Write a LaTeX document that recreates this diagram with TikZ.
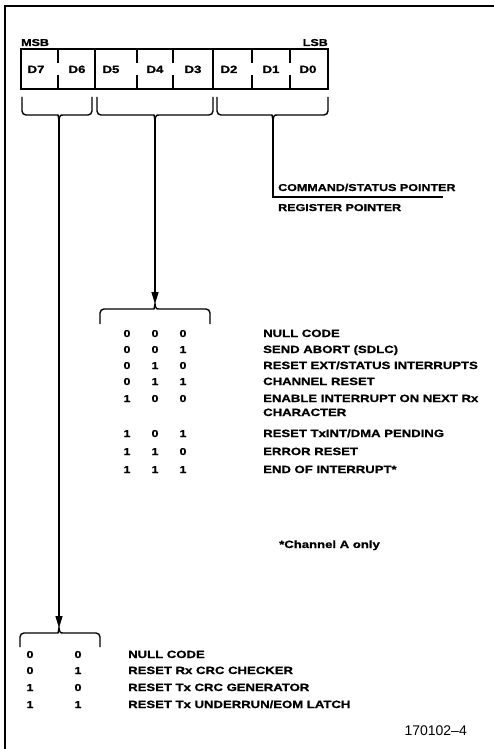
\documentclass[tikz,border=0pt]{standalone}
\usepackage{fontspec}
\setmainfont{Liberation Sans}[FakeStretch=1.25, FakeBold=1.0]
\newfontfamily\plainfont{Liberation Sans}
\usetikzlibrary{arrows.meta}
\tikzset{
  lbl/.style={font=\fontsize{10.5}{11}\selectfont\bfseries, inner sep=0pt, anchor=base west},
  ptr/.style={font=\fontsize{10}{11}\selectfont\bfseries, inner sep=0pt, anchor=base west},
  dig/.style={font=\fontsize{10}{11}\selectfont\bfseries, inner sep=0pt, anchor=base},
  cell/.style={font=\fontsize{10.5}{11}\selectfont\bfseries, inner sep=0pt, anchor=base},
  ln/.style={line width=1.4pt},
  boxln/.style={line width=1.9pt},
  br/.style={line width=1.4pt},
  arr/.style={line width=1.4pt, -{Triangle[length=12pt,width=7pt]}},
}
\newcommand\mydownbrace[3]{% a c b : ends at top (97), cusp pointing down
  \draw[br] (#1,97) [rounded corners=4pt] -- (#1,115) -- (#2-5,115) [sharp corners]
    .. controls (#2-1,115) .. (#2,120) .. controls (#2+1,115) .. (#2+5,115)
    [rounded corners=4pt] -- (#3,115) -- (#3,97);}
\newcommand\myupbrace[5]{% a c b cusp-y end-y
  \draw[br] (#1,#5) [rounded corners=4pt] -- (#1,#4+5) -- (#2-5,#4+5) [sharp corners]
    .. controls (#2-1,#4+5) .. (#2,#4) .. controls (#2+1,#4+5) .. (#2+5,#4+5)
    [rounded corners=4pt] -- (#3,#4+5) -- (#3,#5);}
\begin{document}
\begin{tikzpicture}[x=1pt,y=-1pt]
\useasboundingbox (0,0) rectangle (494,749);
% frame
\draw[line width=1.5pt] (4,6) -- (494,6);
\draw[line width=1.2pt] (5,6) -- (5,749);
% register
\node[ptr] (msb) at (21,46) {MSB};
\node[ptr, anchor=base east] (lsb) at (328,46) {LSB};
\draw[boxln] (21,49) rectangle (328,89);
\foreach \x in {95,213} \draw[boxln] (\x,49) -- (\x,89);
\foreach \x in {58,137,173,252,290} {
  \draw[boxln] (\x,49) -- (\x,63);
  \draw[boxln] (\x,75) -- (\x,89);
}
\foreach \t/\x in {D7/36,D6/77,D5/111,D4/155,D3/193,D2/229,D1/271,D0/308}
  \node[cell] (c\t) at (\x,73) {\t};
% braces under register
\mydownbrace{22}{59}{92}
\mydownbrace{97}{155}{213}
\mydownbrace{217}{273}{328}
\coordinate (lcusp) at (59,120);
\coordinate (mcusp) at (155,120);
\coordinate (rcusp) at (273,120);
% pointer
\coordinate (rend) at (443,197);
\draw[ln] (rcusp) |- (rend);
\node[ptr] (cmd) at (278,191) {COMMAND/STATUS POINTER};
\node[ptr] (reg) at (278,211) {REGISTER POINTER};
% middle table
\coordinate (mtop) at (155,304);
\draw[arr] (mcusp) -- (mtop);
\myupbrace{100}{155}{210}{304}{324}
\foreach \a/\b/\c/\y/\t in {
  0/0/0/337/{NULL CODE},
  0/0/1/353/{SEND ABORT (SDLC)},
  0/1/0/369/{RESET EXT/STATUS INTERRUPTS},
  0/1/1/385/{CHANNEL RESET},
  1/0/0/402/{ENABLE INTERRUPT ON NEXT Rx},
  1/0/1/437/{RESET TxINT/DMA PENDING},
  1/1/0/455/{ERROR RESET},
  1/1/1/473/{END OF INTERRUPT*}}{
  \node[dig] at (127,\y) {\a};
  \node[dig] at (155,\y) {\b};
  \node[dig] at (183,\y) {\c};
  \node[lbl] at (263,\y) {\t};
}
\node[lbl] (chr) at (263,416) {CHARACTER};
\node[lbl] (note) at (279,548) {*Channel A only};
% bottom table
\coordinate (btop) at (59,628);
\draw[arr] (lcusp) -- (btop);
\myupbrace{20}{59}{100}{628}{647}
\foreach \a/\b/\y/\t in {
  0/0/658/{NULL CODE},
  0/1/674/{RESET Rx CRC CHECKER},
  1/0/691/{RESET Tx CRC GENERATOR},
  1/1/708/{RESET Tx UNDERRUN/EOM LATCH}}{
  \node[dig] at (30,\y) {\a};
  \node[dig] at (78,\y) {\b};
  \node[lbl] at (128,\y) {\t};
}
\node[inner sep=0pt, anchor=base east, font=\plainfont\fontsize{14}{14}\selectfont] (fig) at (467,735) {170102\symbol{"2013}4};
\end{tikzpicture}
\end{document}
